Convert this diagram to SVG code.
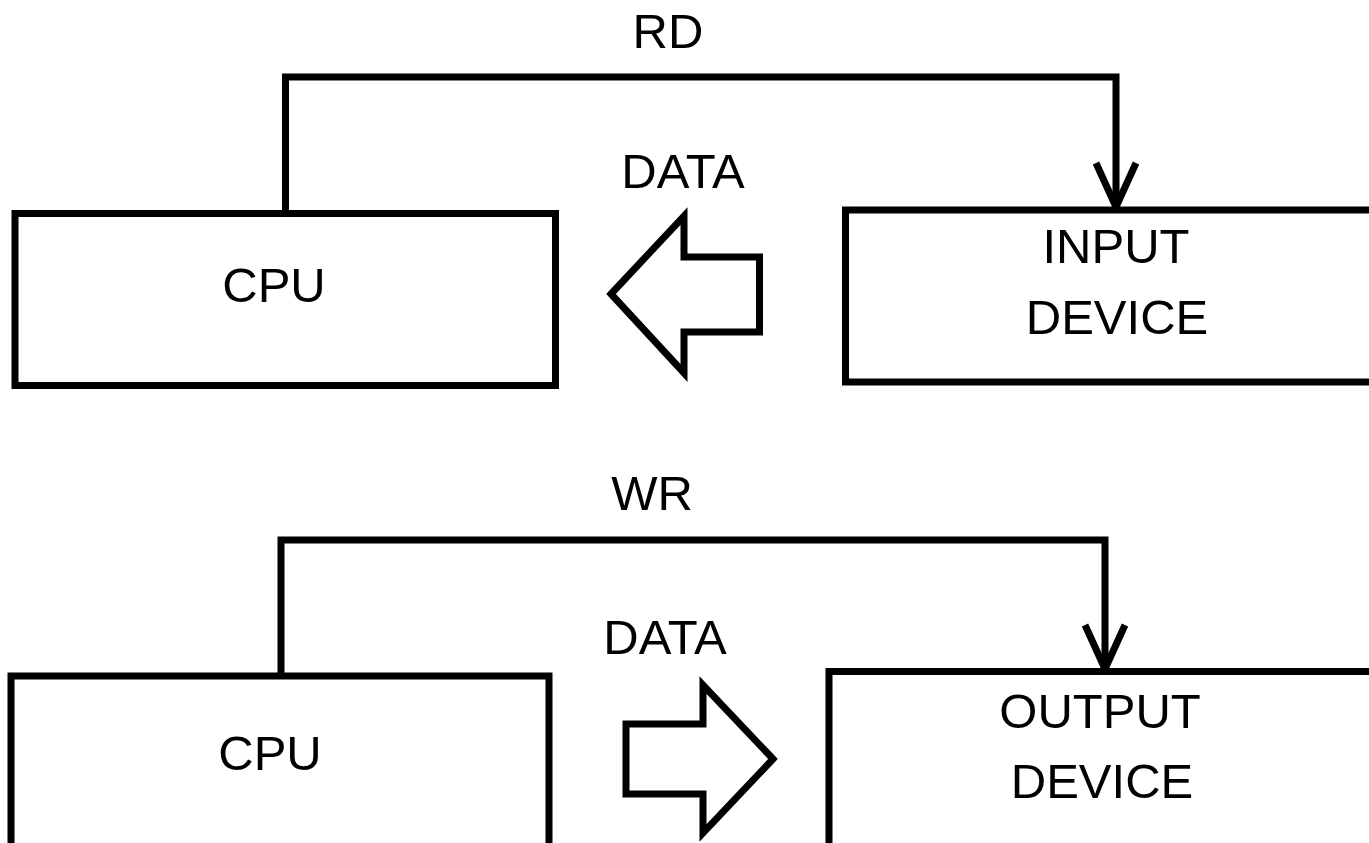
<svg xmlns="http://www.w3.org/2000/svg" width="1369" height="843" viewBox="0 0 1369 843">
<style>
.box{fill:#fff;stroke:#000;stroke-width:7}
.blk{fill:#fff;stroke:#000;stroke-width:7;stroke-linejoin:miter}
.wire{fill:none;stroke:#000;stroke-width:7;stroke-linejoin:miter}
text{font-family:"Liberation Sans",Arial,sans-serif;font-size:49px;fill:#000;text-anchor:middle}
</style>
<defs>
<marker id="vh" markerUnits="userSpaceOnUse" markerWidth="60" markerHeight="60" refX="0" refY="0" orient="auto" overflow="visible">
<path d="M-44,-20 L0,0 L-44,20" fill="none" stroke="#000" stroke-width="7"/>
</marker>
</defs>
<g id="connectors">
<polyline class="wire" points="285.5,213 285.5,77 1116,77 1116,207" marker-end="url(#vh)"/>
<polyline class="wire" points="281,676 281,540 1105,540 1105,669" marker-end="url(#vh)"/>
<text x="668" y="48">RD</text>
<text x="652" y="510">WR</text>
</g>
<g id="cpu1">
<rect class="box" x="15" y="213.5" width="540.5" height="172"/>
<text x="274" y="302">CPU</text>
</g>
<g id="input">
<rect class="box" x="845.5" y="210" width="540" height="172"/>
<text x="1116" y="263">INPUT</text>
<text x="1117" y="334">DEVICE</text>
</g>
<g id="data1">
<polygon class="blk" points="611,294 684,216 684,257 759.5,257 759.5,332 684,332 684,373"/>
<text x="683" y="188">DATA</text>
</g>
<g id="cpu2">
<rect class="box" x="11" y="676" width="538" height="200"/>
<text x="270" y="770">CPU</text>
</g>
<g id="output">
<rect class="box" x="829" y="671.5" width="560" height="200"/>
<text x="1100" y="728">OUTPUT</text>
<text x="1102" y="798">DEVICE</text>
</g>
<g id="data2">
<polygon class="blk" points="773,759 703,685 703,724 626,724 626,794 703,794 703,833"/>
<text x="665" y="654">DATA</text>
</g>
</svg>
